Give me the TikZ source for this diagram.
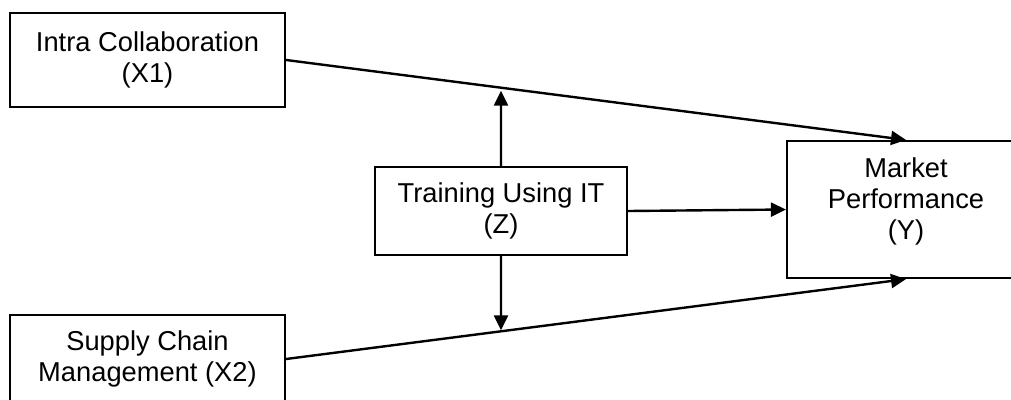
\documentclass[tikz,border=0pt]{standalone}
\usepackage{fontspec}
\setmainfont{Liberation Sans}
\usetikzlibrary{arrows.meta}
\begin{document}
\begin{tikzpicture}[x=1pt,y=-1pt,
  box/.style={draw, line width=2.2pt, inner sep=0pt, align=center,
    font=\fontsize{27.3}{31}\selectfont},
  link/.style={line width=2.4pt, -{Triangle[length=15pt,width=14pt]}}]
\useasboundingbox (0,0) rectangle (1011,399);
% variable boxes
\node[box, minimum width=275pt, minimum height=94pt] (x1) at (147.5,60)
  {Intra Collaboration\\(X1)};
\node[box, minimum width=275pt, minimum height=88pt] (x2) at (147.5,359)
  {Supply Chain\\Management (X2)};
\node[box, minimum width=252pt, minimum height=88pt] (z) at (501,211)
  {Training Using IT\\(Z)};
\node[box, minimum width=238pt, minimum height=137pt, text depth=22pt] (y) at (906,209.5)
  {Market\\Performance\\(Y)};
% direct effects
\draw[link] (x1.east) -- (y.north);
\draw[link] (x2.east) -- (y.south);
\draw[link] (z.east) -- (y.west);
% moderating arrows onto the paths
\coordinate (up) at (intersection of x1.east--y.north and z.north--z.south);
\coordinate (dn) at (intersection of x2.east--y.south and z.north--z.south);
\draw[link, shorten >=3pt] (z.north) -- (up);
\draw[link, shorten >=1pt] (z.south) -- (dn);
\end{tikzpicture}
\end{document}
